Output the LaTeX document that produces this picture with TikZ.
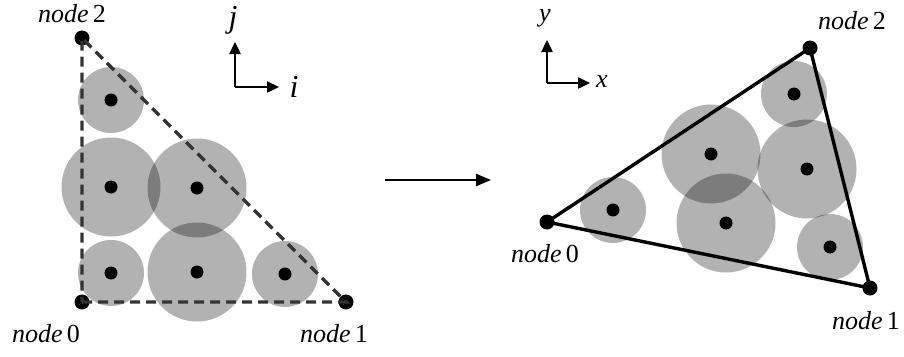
\documentclass[tikz,border=0pt]{standalone}
\usepackage{fontspec}
\setmainfont{Liberation Serif}
\usetikzlibrary{arrows.meta}
\begin{document}
\begin{tikzpicture}[x=1pt,y=-1pt,
  blob/.style={circle,fill=black,fill opacity=0.3,inner sep=0pt,minimum size=#1},
  dot/.style={circle,fill=black,inner sep=0pt,minimum size=13pt},
  vtx/.style={circle,fill=black,inner sep=0pt,minimum size=15pt},
  lbl/.style={font=\fontsize{26}{30}\selectfont,inner sep=0pt},
  dashedge/.style={draw=black!80,line width=3.2pt,dash pattern=on 10pt off 6pt},
  solidedge/.style={draw=black,line width=3.4pt},
  ax/.style={line width=2.4pt,-{Triangle[length=12pt,width=11pt]}},
]
\useasboundingbox (0,0) rectangle (904,356);
% ---------- left triangle ----------
\node[blob=66pt] (la) at (111,100) {};
\node[blob=99pt] (lb) at (111,187) {};
\node[blob=99pt] (lc) at (197,188) {};
\node[blob=66pt] (ld) at (111,273) {};
\node[blob=99pt] (le) at (197,272) {};
\node[blob=66pt] (lf) at (285,274) {};
\node[vtx] (L0) at (82,302) {};
\node[vtx] (L1) at (346,302) {};
\node[vtx] (L2) at (82,38) {};
\draw[dashedge] (L0.center) -- (L1.center) -- (L2.center) -- cycle;
\foreach \n in {la,lb,lc,ld,le,lf} \node[dot] at (\n) {};
\node[lbl] at (72,14) {\textit{node}\,2};
\node[lbl] at (46,334) {\textit{node}\,0};
\node[lbl] at (334,334) {\textit{node}\,1};
% axes left
\coordinate (lo) at (235,87);
\coordinate (lj) at (235,42);
\coordinate (li) at (279,87);
\draw[ax] (lo) -- (lj);
\draw[ax] (lo) -- (li);
\node[lbl,font=\fontsize{32}{34}\selectfont] at (233,20) {\textit{j}};
\node[lbl,font=\fontsize{32}{34}\selectfont] at (294,87) {\textit{i}};
% ---------- middle arrow ----------
\coordinate (ma) at (385,180);
\coordinate (mb) at (491,180);
\draw[line width=2.2pt,-{Triangle[length=15pt,width=12pt]}] (ma) -- (mb);
% ---------- right triangle ----------
\node[blob=66pt] (ra) at (613,210) {};
\node[blob=99pt] (rb) at (711,154) {};
\node[blob=99pt] (rc) at (726,223) {};
\node[blob=66pt] (rd) at (794,94) {};
\node[blob=99pt] (re) at (807,169) {};
\node[blob=66pt] (rf) at (830,247) {};
\node[vtx] (R0) at (547,222) {};
\node[vtx] (R1) at (870,288) {};
\node[vtx] (R2) at (810,48) {};
\draw[solidedge] (R0.center) -- (R1.center) -- (R2.center) -- cycle;
\foreach \n in {ra,rb,rc,rd,re,rf} \node[dot] at (\n) {};
\node[lbl] at (545,254) {\textit{node}\,0};
\node[lbl] at (866,321) {\textit{node}\,1};
\node[lbl] at (852,21) {\textit{node}\,2};
% axes right
\coordinate (ro) at (547,83);
\coordinate (ry) at (547,40);
\coordinate (rx) at (590,83);
\draw[ax] (ro) -- (ry);
\draw[ax] (ro) -- (rx);
\node[lbl] at (545,18) {\textit{y}};
\node[lbl] at (602,82) {\textit{x}};
\end{tikzpicture}
\end{document}
